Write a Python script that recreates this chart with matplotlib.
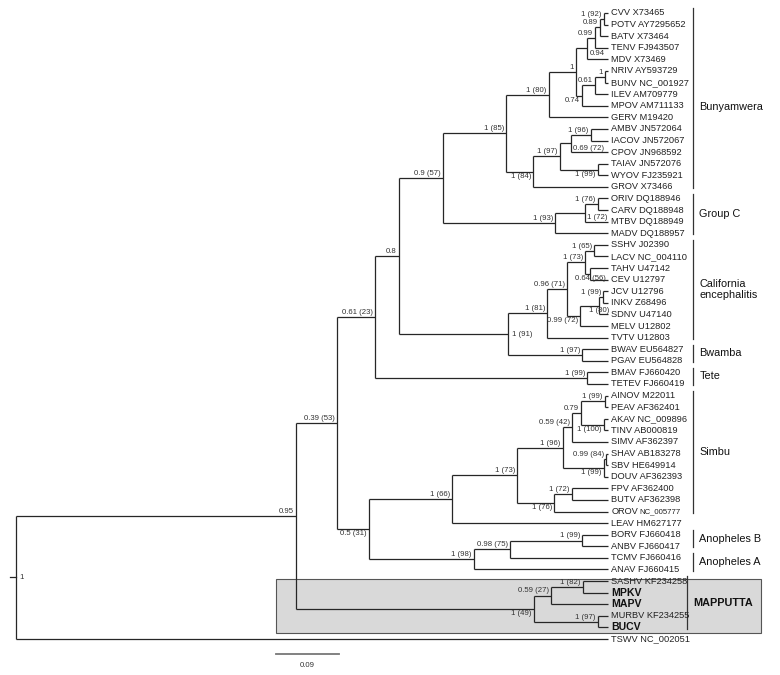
import matplotlib.pyplot as plt
from matplotlib.patches import Rectangle

plt.rcParams['font.family'] = ['Liberation Sans', 'DejaVu Sans']

# tip labels, top to bottom
leaves = ['CVV X73465', 'POTV AY7295652', 'BATV X73464', 'TENV FJ943507', 'MDV X73469',
          'NRIV AY593729', 'BUNV NC_001927', 'ILEV AM709779', 'MPOV AM711133', 'GERV M19420',
          'AMBV JN572064', 'IACOV JN572067', 'CPOV JN968592', 'TAIAV JN572076', 'WYOV FJ235921',
          'GROV X73466', 'ORIV DQ188946', 'CARV DQ188948', 'MTBV DQ188949', 'MADV DQ188957',
          'SSHV J02390', 'LACV NC_004110', 'TAHV U47142', 'CEV U12797', 'JCV U12796',
          'INKV Z68496', 'SDNV U47140', 'MELV U12802', 'TVTV U12803', 'BWAV EU564827',
          'PGAV EU564828', 'BMAV FJ660420', 'TETEV FJ660419', 'AINOV M22011', 'PEAV AF362401',
          'AKAV NC_009896', 'TINV AB000819', 'SIMV AF362397', 'SHAV AB183278', 'SBV HE649914',
          'DOUV AF362393', 'FPV AF362400', 'BUTV AF362398', 'OROV NC_005777', 'LEAV HM627177',
          'BORV FJ660418', 'ANBV FJ660417', 'TCMV FJ660416', 'ANAV FJ660415', 'SASHV KF234258',
          'MPKV', 'MAPV', 'MURBV KF234255', 'BUCV', 'TSWV NC_002051']
bold_leaves = ['MPKV', 'MAPV', 'BUCV']
tip_depth = 0.846

# internal nodes: id, children, distance from root, support
nodes = [
    ('cvv', ['CVV', 'POTV'], 0.840, '1 (92)'),
    ('batv', ['cvv', 'BATV'], 0.834, '0.89'),
    ('tenv', ['batv', 'TENV'], 0.827, '0.99'),
    ('mdv', ['tenv', 'MDV'], 0.816, '0.94'),
    ('nriv', ['NRIV', 'BUNV'], 0.841, '1'),
    ('ilev', ['nriv', 'ILEV'], 0.827, '0.61'),
    ('mpov', ['ilev', 'MPOV'], 0.809, '0.74'),
    ('bun1', ['mdv', 'mpov'], 0.800, '1'),
    ('gerv', ['bun1', 'GERV'], 0.761, '1 (80)'),
    ('ambv', ['AMBV', 'IACOV'], 0.821, '1 (96)'),
    ('cpov', ['ambv', 'CPOV'], 0.793, '0.69 (72)'),
    ('taiav', ['TAIAV', 'WYOV'], 0.831, '1 (99)'),
    ('bun2', ['cpov', 'taiav'], 0.777, '1 (97)'),
    ('grov', ['bun2', 'GROV'], 0.739, '1 (84)'),
    ('bunya', ['gerv', 'grov'], 0.700, '1 (85)'),
    ('oriv', ['ORIV', 'CARV'], 0.831, '1 (76)'),
    ('mtbv', ['oriv', 'MTBV'], 0.813, '1 (72)'),
    ('groupc', ['mtbv', 'MADV'], 0.770, '1 (93)'),
    ('e', ['bunya', 'groupc'], 0.610, '0.9 (57)'),
    ('sshv', ['SSHV', 'LACV'], 0.826, '1 (65)'),
    ('tahv', ['TAHV', 'CEV'], 0.820, '0.64 (56)'),
    ('cal1', ['sshv', 'tahv'], 0.813, '1 (73)'),
    ('jcv', ['JCV', 'INKV'], 0.839, '1 (99)'),
    ('sdnv', ['jcv', 'SDNV'], 0.833, '1 (80)'),
    ('melv', ['sdnv', 'MELV'], 0.806, '0.99 (72)'),
    ('cal2', ['cal1', 'melv'], 0.787, '0.96 (71)'),
    ('tvtv', ['cal2', 'TVTV'], 0.759, '1 (81)'),
    ('bwav', ['BWAV', 'PGAV'], 0.809, '1 (97)'),
    ('calbw', ['tvtv', 'bwav'], 0.703, '1 (91)'),
    ('d', ['e', 'calbw'], 0.547, '0.8'),
    ('tete', ['BMAV', 'TETEV'], 0.816, '1 (99)'),
    ('c', ['d', 'tete'], 0.513, '0.61 (23)'),
    ('ainov', ['AINOV', 'PEAV'], 0.841, '1 (99)'),
    ('akav', ['AKAV', 'TINV'], 0.840, '1 (100)'),
    ('sim1', ['ainov', 'akav'], 0.807, '0.79'),
    ('simv', ['sim1', 'SIMV'], 0.794, '0.59 (42)'),
    ('shav', ['SHAV', 'SBV'], 0.843, '0.99 (84)'),
    ('douv', ['shav', 'DOUV'], 0.840, '1 (99)'),
    ('sim2', ['simv', 'douv'], 0.781, '1 (96)'),
    ('fpv', ['FPV', 'BUTV'], 0.794, '1 (72)'),
    ('orov', ['fpv', 'OROV'], 0.769, '1 (76)'),
    ('simbu', ['sim2', 'orov'], 0.716, '1 (73)'),
    ('leav', ['simbu', 'LEAV'], 0.623, '1 (66)'),
    ('borv', ['BORV', 'ANBV'], 0.809, '1 (99)'),
    ('tcmv', ['borv', 'TCMV'], 0.706, '0.98 (75)'),
    ('anav', ['tcmv', 'ANAV'], 0.654, '1 (98)'),
    ('b2', ['leav', 'anav'], 0.504, '0.5 (31)'),
    ('b', ['c', 'b2'], 0.459, '0.39 (53)'),
    ('sashv', ['SASHV', 'MPKV'], 0.810, '1 (82)'),
    ('mapv', ['sashv', 'MAPV'], 0.764, '0.59 (27)'),
    ('murbv', ['MURBV', 'BUCV'], 0.831, '1 (97)'),
    ('mapputta', ['mapv', 'murbv'], 0.740, '1 (49)'),
    ('a', ['b', 'mapputta'], 0.400, '0.95'),
    ('root', ['a', 'TSWV'], 0.0, '1'),
]

# clade bars on the right
clade_names = ['Bunyamwera', 'Group C', 'California\nencephalitis', 'Bwamba', 'Tete',
               'Simbu', 'Anopheles B', 'Anopheles A', 'MAPPUTTA']
clade_first = ['CVV', 'ORIV', 'SSHV', 'BWAV', 'BMAV', 'AINOV', 'BORV', 'TCMV', 'SASHV']
clade_last = ['GROV', 'MADV', 'TVTV', 'PGAV', 'TETEV', 'OROV', 'ANBV', 'ANAV', 'BUCV']

scale_len = 0.09

# where the support label sits if not above the branch
label_mode = {'mdv': 'rb', 'mpov': 'below', 'cpov': 'rb', 'grov': 'below', 'taiav': 'below',
              'mtbv': 'rb', 'tahv': 'cb', 'sdnv': 'cb', 'melv': 'below', 'calbw': 'rc',
              'b2': 'below', 'akav': 'below', 'douv': 'below', 'orov': 'below',
              'mapputta': 'below', 'root': 'rc'}
modes = {'above': ((-1.5, 0.8), 'right', 'bottom'),
         'below': ((-1.5, -0.8), 'right', 'top'),
         'rb': ((1.5, -0.8), 'left', 'top'),
         'cb': ((0, -0.8), 'center', 'top'),
         'rc': ((2.5, 0), 'left', 'center')}

row = {name.split()[0]: i for i, name in enumerate(leaves)}
depth = {n[0]: n[2] for n in nodes}
kids = {n[0]: n[1] for n in nodes}
ypos = {}


def get_y(key):
    if key in row:
        return row[key]
    if key not in ypos:
        ch = kids[key]
        ypos[key] = (get_y(ch[0]) + get_y(ch[-1])) / 2
    return ypos[key]


line_col = '#262626'
fig = plt.figure(figsize=(7.8, 6.75), dpi=100)
ax = fig.add_axes([0, 0, 1, 1])
ax.axis('off')
ax.set_xlim(-0.0229, 1.0914)
ax.set_ylim(57.1, -1.12)

for nid, ch, dep, sup in nodes:
    y0 = get_y(ch[0])
    y1 = get_y(ch[-1])
    ax.plot([dep, dep], [y0, y1], color=line_col, lw=0.9, solid_capstyle='butt', zorder=2)
    for c in ch:
        cx = depth.get(c, tip_depth)
        ax.plot([dep, cx], [get_y(c), get_y(c)], color=line_col, lw=0.9,
                solid_capstyle='butt', zorder=2)
    off, ha, va = modes[label_mode.get(nid, 'above')]
    ax.annotate(sup, (dep, get_y(nid)), xytext=off, textcoords='offset points',
                ha=ha, va=va, fontsize=5.6, color='#333333', zorder=3)

# root stub
ax.plot([-0.0086, 0], [get_y('root'), get_y('root')], color=line_col, lw=0.9)

# tip labels
for i, name in enumerate(leaves):
    if name in bold_leaves:
        ax.annotate(name, (tip_depth, i), xytext=(2.2, 0), textcoords='offset points',
                    ha='left', va='center', fontsize=7.6, fontweight='bold', color='#111111')
    elif name.startswith('OROV'):
        ax.annotate('OROV', (tip_depth, i), xytext=(2.2, 0), textcoords='offset points',
                    ha='left', va='center', fontsize=6.7, color='#222222')
        ax.annotate(name.split()[1], (tip_depth, i), xytext=(22.5, -0.3),
                    textcoords='offset points', ha='left', va='center', fontsize=5.6,
                    color='#222222')
    else:
        ax.annotate(name, (tip_depth, i), xytext=(2.2, 0), textcoords='offset points',
                    ha='left', va='center', fontsize=6.7, color='#222222')

# clade bars and names
for name, first, last in zip(clade_names, clade_first, clade_last):
    y0 = row[first] - 0.4
    y1 = row[last] + 0.1
    bx = 0.959 if name == 'MAPPUTTA' else 0.967
    ax.plot([bx, bx], [y0, y1], color='#333333', lw=0.9)
    ym = (y0 + y1) / 2
    if name == 'Bunyamwera':
        ym += 0.8
    ax.text(bx + 0.009, ym, name, ha='left', va='center', fontsize=7.8,
            fontweight='bold' if name == 'MAPPUTTA' else 'normal',
            color='#111111', linespacing=1.15)

# grey box round the Mapputta group
box_top = row['SASHV'] - 0.2
box_bot = row['BUCV'] + 0.5
ax.add_patch(Rectangle((0.371, box_top), 1.064 - 0.371, box_bot - box_top,
                       facecolor='#d9d9d9', edgecolor='#555555', lw=0.8, zorder=0))

# scale bar
ax.plot([0.371, 0.371 + scale_len], [55.3, 55.3], color='#777777', lw=1.3)
ax.text(0.371 + scale_len / 2, 56.25, str(scale_len), ha='center', va='center',
        fontsize=5.6, color='#333333')

fig.savefig('out.png', dpi=100)
